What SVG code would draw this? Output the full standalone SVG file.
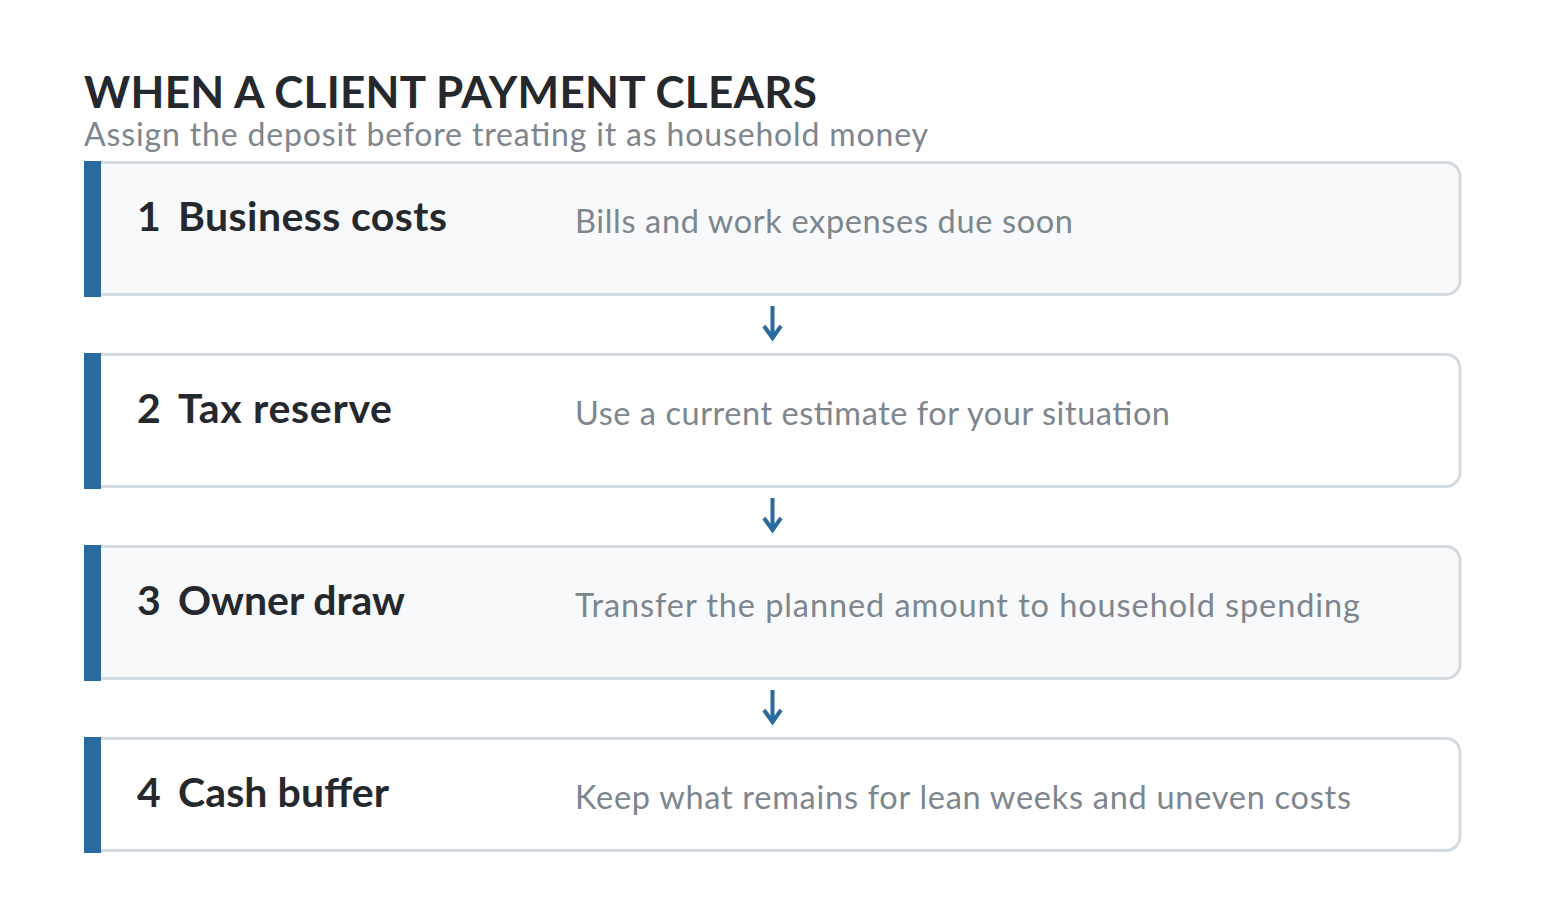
<svg xmlns="http://www.w3.org/2000/svg" width="1546" height="900" viewBox="0 0 1546 900">
<style>
.title{font-family:Lato,"Liberation Sans",sans-serif;font-weight:700;font-size:44px;fill:#25282c}
.sub{font-family:Lato,"Liberation Sans",sans-serif;font-size:32px;fill:#7d868d}
.card{stroke:#d3dae0;stroke-width:3}
.alt{fill:#f7f9fb}
.plain{fill:#ffffff}
.bar{fill:#2b6a9f}
.num,.lab{font-family:Lato,"Liberation Sans",sans-serif;font-weight:700;font-size:41px;fill:#25282c}
.desc{font-family:Lato,"Liberation Sans",sans-serif;font-size:32.5px;fill:#7d868d}
.arrow{stroke:#2b6a9f;stroke-width:4;fill:none}
</style>
<rect width="1546" height="900" fill="#ffffff"/>
<g id="header">
<text class="title" x="84" y="108" textLength="733">WHEN A CLIENT PAYMENT CLEARS</text>
<text class="sub" x="84" y="146" textLength="844">Assign the deposit before treating it as household money</text>
</g>
<g id="step1">
<rect class="card alt" x="86" y="162.5" width="1374" height="132" rx="14"/>
<rect class="bar" x="84" y="161" width="17" height="136"/>
<text class="num" x="137" y="231">1</text>
<text class="lab" x="178" y="231" textLength="269">Business costs</text>
<text class="desc" x="575" y="233" textLength="498">Bills and work expenses due soon</text>
</g>
<g id="step2">
<rect class="card plain" x="86" y="354.5" width="1374" height="132" rx="14"/>
<rect class="bar" x="84" y="353" width="17" height="136"/>
<text class="num" x="137" y="423">2</text>
<text class="lab" x="178" y="423" textLength="214">Tax reserve</text>
<text class="desc" x="575" y="425" textLength="595">Use a current estimate for your situation</text>
</g>
<g id="step3">
<rect class="card alt" x="86" y="546.5" width="1374" height="132" rx="14"/>
<rect class="bar" x="84" y="545" width="17" height="136"/>
<text class="num" x="137" y="615">3</text>
<text class="lab" x="178" y="615" textLength="227">Owner draw</text>
<text class="desc" x="575" y="617" textLength="785">Transfer the planned amount to household spending</text>
</g>
<g id="step4">
<rect class="card plain" x="86" y="738.5" width="1374" height="112" rx="14"/>
<rect class="bar" x="84" y="737" width="17" height="116"/>
<text class="num" x="137" y="807">4</text>
<text class="lab" x="178" y="807" textLength="211">Cash buffer</text>
<text class="desc" x="575" y="809" textLength="776">Keep what remains for lean weeks and uneven costs</text>
</g>
<g id="connectors">
<path class="arrow" d="M772.5 306 V337 M764 326 L772.5 338 L781 326"/>
<path class="arrow" d="M772.5 498 V529 M764 518 L772.5 530 L781 518"/>
<path class="arrow" d="M772.5 690 V721 M764 710 L772.5 722 L781 710"/>
</g>
</svg>
